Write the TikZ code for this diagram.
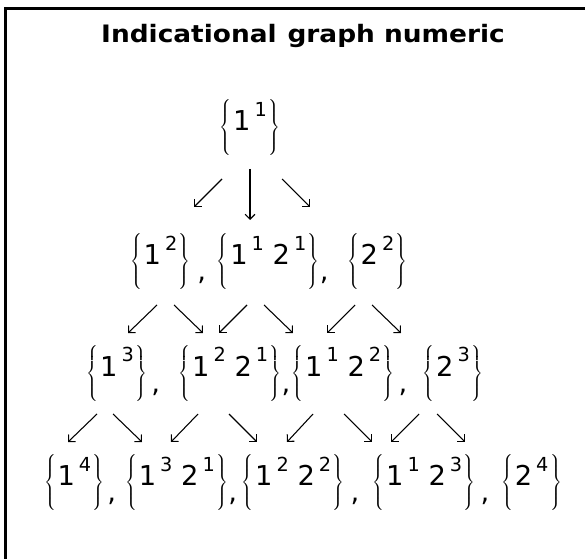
\documentclass[tikz,border=0pt]{standalone}
\usepackage{fontspec}
\setmainfont{DejaVu Sans}
\newfontfamily\titlefont{DejaVu Sans}[FakeStretch=1.1]
\usetikzlibrary{arrows.meta}

% braces, powers and the low comma of the rows
\newcommand{\brl}{{\fontsize{10}{12}\selectfont$\left\{\vcenter to 41pt{}\right.$}}
\newcommand{\brr}{{\fontsize{10}{12}\selectfont$\left.\vcenter to 41pt{}\right\}$}}
\newcommand{\pw}[2]{#1\hspace{3pt}\raisebox{0.54em}{\fontsize{14.5}{15}\selectfont #2}}
\newcommand{\cm}[2]{\hspace{#1}\raisebox{-12pt}{,}\hspace{#2}}

\begin{document}
\begin{tikzpicture}[x=0.75pt,y=-0.75pt,
  arr/.style={-{Straight Barb[length=3.7pt,width=7.4pt]},line width=0.8pt},
  row/.style={inner sep=0pt,font=\fontsize{20.5}{24}\selectfont}]
\useasboundingbox (0,0) rectangle (585,559);
\draw[line width=2.2pt] (5.5,8.5) rectangle (700,700);

\node[anchor=base,font=\titlefont\bfseries\fontsize{18}{20}\selectfont] (title) at (303,43) {Indicational\hspace{0.45em}graph numeric};

\node[row] (r1) at (250,127.5) {\brl\pw{1}{1}\brr};
\node[row] (r2) at (269,261.5) {\brl\pw{1}{2}\brr\cm{5pt}{8pt}\brl\pw{1}{1}\ \pw{2}{1}\brr\cm{0pt}{14pt}\brl\pw{2}{2}\brr};
\node[row] (r3) at (285,373) {\brl\pw{1}{3}\brr\cm{3pt}{14pt}\brl\pw{1}{2}\ \pw{2}{1}\brr\cm{0pt}{1pt}\brl\pw{1}{1}\ \pw{2}{2}\brr\cm{3pt}{11.5pt}\brl\pw{2}{3}\brr};
\node[row] (r4) at (303,482.5) {\brl\pw{1}{4}\brr\cm{2pt}{7pt}\brl\pw{1}{3}\ \pw{2}{1}\brr\cm{0pt}{3.5pt}\brl\pw{1}{2}\ \pw{2}{2}\brr\cm{4.5pt}{10pt}\brl\pw{1}{1}\ \pw{2}{3}\brr\cm{3.7pt}{9pt}\brl\pw{2}{4}\brr};

% arrows between the rows
\draw[arr] (250,169) -- (250,220);
\foreach \a/\b in {222/194,282/310}
  \draw[arr] (\a,179) -- (\b,207);
\foreach \a/\b in {157/128,174/203,247/219,264/293,355/327,372/401}
  \draw[arr] (\a,305) -- (\b,333);
\foreach \a/\b in {97/68,113/142,198/171,229/257,313/287,344/372,419/391,437/465}
  \draw[arr] (\a,414) -- (\b,442);
\end{tikzpicture}
\end{document}
